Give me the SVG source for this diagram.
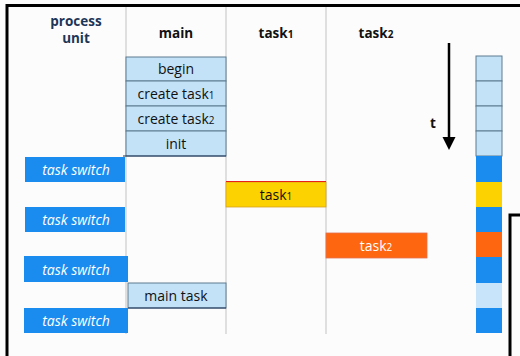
<svg xmlns="http://www.w3.org/2000/svg" width="520" height="356" viewBox="0 0 520 356">
  <style>
    .hdr { font-family: "Open Sans", "Liberation Sans", sans-serif; font-weight: bold; font-size: 13.5px; fill: #111; text-anchor: middle; }
    .pu { fill: #1d3557; }
    .lbl { font-family: "Open Sans", "Liberation Sans", sans-serif; font-weight: 500; font-size: 14px; fill: #111; text-anchor: middle; }
    .sw { font-family: "Open Sans", "Liberation Sans", sans-serif; font-style: italic; font-weight: 500; font-size: 14px; fill: #ffffff; text-anchor: middle; }
    .lane { stroke: #d6d6d6; stroke-width: 1.5; }
    .light { fill: #c3e2f8; stroke: #5c7a90; stroke-width: 1; }
    .blue { fill: #1a8cf0; }
    .yellow { fill: #fcd200; }
    .orange { fill: #ff6610; }
    .sub { font-size: 10px; }
  </style>

  <!-- canvas -->
  <rect x="0" y="0" width="520" height="356" fill="#fcfcfc"/>
  <path d="M7,356 V5.5 H520" fill="none" stroke="#000" stroke-width="3"/>
  <path d="M510,356 V215 H520" fill="none" stroke="#000" stroke-width="3"/>

  <!-- swimlane separators -->
  <g id="lanes">
    <line class="lane" x1="126" y1="7" x2="126" y2="334"/>
    <line class="lane" x1="226" y1="7" x2="226" y2="334"/>
    <line class="lane" x1="326" y1="7" x2="326" y2="334"/>
  </g>

  <!-- column headers -->
  <g id="headers">
    <text class="hdr pu" x="76" y="26">process</text>
    <text class="hdr pu" x="76" y="43">unit</text>
    <text class="hdr" x="176" y="38">main</text>
    <text class="hdr" x="276" y="38">task<tspan class="sub">1</tspan></text>
    <text class="hdr" x="376" y="38">task<tspan class="sub">2</tspan></text>
  </g>

  <!-- main column start-up steps -->
  <g id="begin">
    <rect class="light" x="126" y="57" width="100" height="24"/>
    <text class="lbl" x="176" y="74">begin</text>
  </g>
  <g id="create-task1">
    <rect class="light" x="126" y="81" width="100" height="25"/>
    <text class="lbl" x="176" y="98.5">create task<tspan class="sub">1</tspan></text>
  </g>
  <g id="create-task2">
    <rect class="light" x="126" y="106" width="100" height="25"/>
    <text class="lbl" x="176" y="123.5">create task<tspan class="sub">2</tspan></text>
  </g>
  <g id="init">
    <rect class="light" x="126" y="131" width="100" height="25"/>
    <text class="lbl" x="176" y="148.5">init</text>
  </g>

  <!-- task switches on the process unit -->
  <g id="switch1">
    <rect class="blue" x="25" y="157" width="100" height="25"/>
    <text class="sw" x="76" y="174.5">task switch</text>
  </g>
  <g id="switch2">
    <rect class="blue" x="25" y="207" width="100" height="25"/>
    <text class="sw" x="76" y="224.5">task switch</text>
  </g>
  <g id="switch3">
    <rect class="blue" x="24" y="256" width="104" height="26"/>
    <text class="sw" x="76" y="274.5">task switch</text>
  </g>
  <g id="switch4">
    <rect class="blue" x="24" y="308" width="104" height="25"/>
    <text class="sw" x="76" y="325.5">task switch</text>
  </g>

  <!-- task bodies -->
  <g id="task1">
    <rect class="yellow" x="226" y="182" width="100" height="25" stroke="#d8a020" stroke-width="0.8"/>
    <line x1="226" y1="181.5" x2="326" y2="181.5" stroke="#e8201a" stroke-width="1"/>
    <text class="lbl" x="276" y="199.5">task<tspan class="sub">1</tspan></text>
  </g>
  <g id="task2">
    <rect class="orange" x="326" y="233" width="101" height="25" stroke="#e07050" stroke-width="0.8"/>
    <text class="lbl" x="376" y="250.5" style="fill:#ffffff">task<tspan class="sub">2</tspan></text>
  </g>
  <g id="main-task">
    <rect class="light" x="128" y="283" width="98" height="25"/>
    <text class="lbl" x="176" y="300.5">main task</text>
  </g>

  <g id="connectors">
    <!-- dividers under init and main task -->
    <line x1="123" y1="156" x2="226" y2="156" stroke="#1d3557" stroke-width="1.2"/>
    <line x1="128" y1="308" x2="226" y2="308" stroke="#1d3557" stroke-width="1.2"/>
    <!-- time axis -->
    <line x1="449" y1="43" x2="449" y2="139" stroke="#000" stroke-width="2.5"/>
    <path d="M442.5,137 L455.5,137 L449,150 Z" fill="#000"/>
  </g>
  <text class="hdr" x="433" y="128">t</text>

  <!-- timeline bar -->
  <g id="timeline">
    <rect class="light" x="476" y="56" width="26" height="25"/>
    <rect class="light" x="476" y="81" width="26" height="25"/>
    <rect class="light" x="476" y="106" width="26" height="25"/>
    <rect class="light" x="476" y="131" width="26" height="25"/>
    <rect class="blue" x="476" y="156" width="26" height="26"/>
    <rect class="yellow" x="476" y="182" width="26" height="25"/>
    <rect class="blue" x="476" y="207" width="26" height="25"/>
    <rect class="orange" x="476" y="232" width="26" height="25"/>
    <rect class="blue" x="476" y="257" width="26" height="26"/>
    <rect x="476" y="283" width="26" height="25" fill="#c8e4fa"/>
    <rect class="blue" x="476" y="308" width="26" height="25"/>
  </g>
</svg>
